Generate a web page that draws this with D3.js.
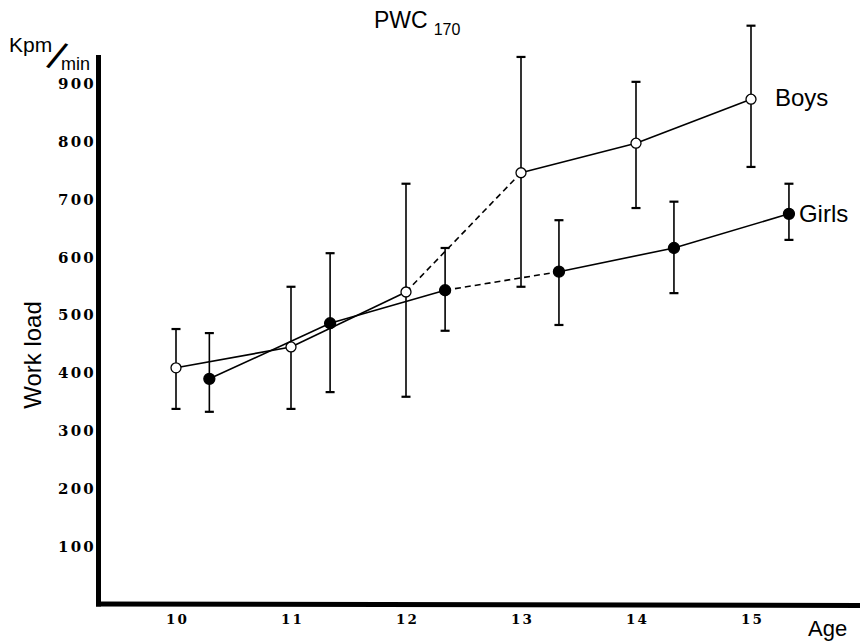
<!DOCTYPE html>
<html>
<head>
<meta charset="utf-8">
<script src="https://cdn.jsdelivr.net/npm/d3@7"></script>
<style>
  html, body { margin: 0; padding: 0; background: #fff; }
  svg { display: block; }
  .tick-y { font-family: "DejaVu Serif", serif; font-weight: bold; font-size: 15px; letter-spacing: 2.2px; }
  .tick-x { font-family: "DejaVu Serif", serif; font-weight: bold; font-size: 13.5px; letter-spacing: 2px; }
  .lbl { font-family: "Liberation Sans", Arial, sans-serif; fill: #000; }
</style>
</head>
<body>
<svg id="chart" width="860" height="643"></svg>
<script>
// PWC170 work load by age, boys vs girls (mean with range bars)
const boysAge   = [10, 11, 12, 13, 14, 15];
const boysMean  = [408, 444, 539, 745, 796, 872];
const boysHigh  = [475, 548, 726, 945, 902, 999];
const boysLow   = [337, 337, 358, 548, 684, 755];

const girlsAge  = [10.29, 11.34, 12.34, 13.33, 14.33, 15.33];
const girlsMean = [389, 485, 542, 574, 615, 674];
const girlsHigh = [468, 606, 615, 663, 695, 726];
const girlsLow  = [332, 366, 472, 482, 537, 629];

const ageTicks  = [10, 11, 12, 13, 14, 15];
const loadTicks = [100, 200, 300, 400, 500, 600, 700, 800, 900];

// segment index after which the connecting line is dashed (12 -> 13)
const dashedSegment = 2;

const svg = d3.select("#chart");
const x = d3.scaleLinear().domain([10, 15]).range([176, 751]);
const y = d3.scaleLinear().domain([0, 900]).range([604, 83]);

// axes: heavy frame lines, labels without tick marks
svg.append("line").attr("x1", 98.5).attr("x2", 98.5).attr("y1", 55).attr("y2", 606.5)
  .attr("stroke", "#000").attr("stroke-width", 5);
svg.append("line").attr("x1", 96).attr("x2", 860).attr("y1", y(0)).attr("y2", y(0) + 1.5)
  .attr("stroke", "#000").attr("stroke-width", 5);

const yAxis = d3.axisLeft(y).tickValues(loadTicks).tickFormat(d3.format("d")).tickSize(0).tickPadding(0);
const gy = svg.append("g").attr("transform", "translate(96,0)").call(yAxis);
gy.select(".domain").remove();
gy.selectAll("text").attr("class", "tick-y").attr("fill", "#000").attr("dy", "0.36em");

const xAxis = d3.axisBottom(x).tickValues(ageTicks).tickFormat(d3.format("d")).tickSize(0).tickPadding(0);
const gx = svg.append("g").attr("transform", "translate(1,615)").call(xAxis);
gx.select(".domain").remove();
gx.selectAll("text").attr("class", "tick-x").attr("fill", "#000").attr("dy", "0.7em");

function drawSeries(ages, mean, low, high, filled) {
  const pts = ages.map((a, i) => ({ a, m: mean[i], lo: low[i], hi: high[i] }));
  const g = svg.append("g");

  // range bars
  g.selectAll(".bar").data(pts).join("line")
    .attr("x1", d => x(d.a)).attr("x2", d => x(d.a))
    .attr("y1", d => y(d.hi)).attr("y2", d => y(d.lo))
    .attr("stroke", "#000").attr("stroke-width", 1.6);
  ["hi", "lo"].forEach(k => {
    g.selectAll(".cap-" + k).data(pts).join("line")
      .attr("x1", d => x(d.a) - 4.5).attr("x2", d => x(d.a) + 4.5)
      .attr("y1", d => y(d[k])).attr("y2", d => y(d[k]))
      .attr("stroke", "#000").attr("stroke-width", 2.2);
  });

  // connecting segments
  const segs = d3.pairs(pts).map((p, i) => ({ p, dashed: i === dashedSegment }));
  g.selectAll(".seg").data(segs).join("line")
    .attr("x1", d => x(d.p[0].a)).attr("y1", d => y(d.p[0].m))
    .attr("x2", d => x(d.p[1].a)).attr("y2", d => y(d.p[1].m))
    .attr("stroke", "#000").attr("stroke-width", 1.6)
    .attr("stroke-dasharray", d => d.dashed ? "6,4" : null);

  // markers
  g.selectAll(".pt").data(pts).join("circle")
    .attr("cx", d => x(d.a)).attr("cy", d => y(d.m))
    .attr("r", filled ? 5.5 : 5)
    .attr("fill", filled ? "#000" : "#fff")
    .attr("stroke", "#000").attr("stroke-width", 1.3);
  return pts;
}

const bp = drawSeries(boysAge, boysMean, boysLow, boysHigh, false);
const gp = drawSeries(girlsAge, girlsMean, girlsLow, girlsHigh, true);

// series names beside the last points
svg.append("text").attr("class", "lbl").attr("x", x(bp[5].a) + 24).attr("y", y(bp[5].m) + 7)
  .attr("font-size", 24).text("Boys");
svg.append("text").attr("class", "lbl").attr("x", x(gp[5].a) + 10).attr("y", y(gp[5].m) + 8)
  .attr("font-size", 24).text("Girls");

// title
const title = svg.append("text").attr("class", "lbl").attr("x", 374).attr("y", 28).attr("font-size", 23);
title.append("tspan").text("PWC");
title.append("tspan").attr("dx", 6).attr("dy", 7).attr("font-size", 16).text("170");

// unit label: Kpm over min, split by a long leaning slash
svg.append("text").attr("class", "lbl").attr("x", 9).attr("y", 52).attr("font-size", 21).text("Kpm");
svg.append("text").attr("class", "lbl").attr("transform", "translate(57,56) rotate(24)")
  .attr("text-anchor", "middle").attr("y", 14).attr("font-size", 40).text("/");
svg.append("text").attr("class", "lbl").attr("x", 61).attr("y", 70).attr("font-size", 18).text("min");

// axis titles
svg.append("text").attr("class", "lbl").attr("transform", "translate(41,355) rotate(-90)")
  .attr("text-anchor", "middle").attr("font-size", 24).text("Work load");
svg.append("text").attr("class", "lbl").attr("x", 808).attr("y", 636).attr("font-size", 22).text("Age");
</script>
</body>
</html>
